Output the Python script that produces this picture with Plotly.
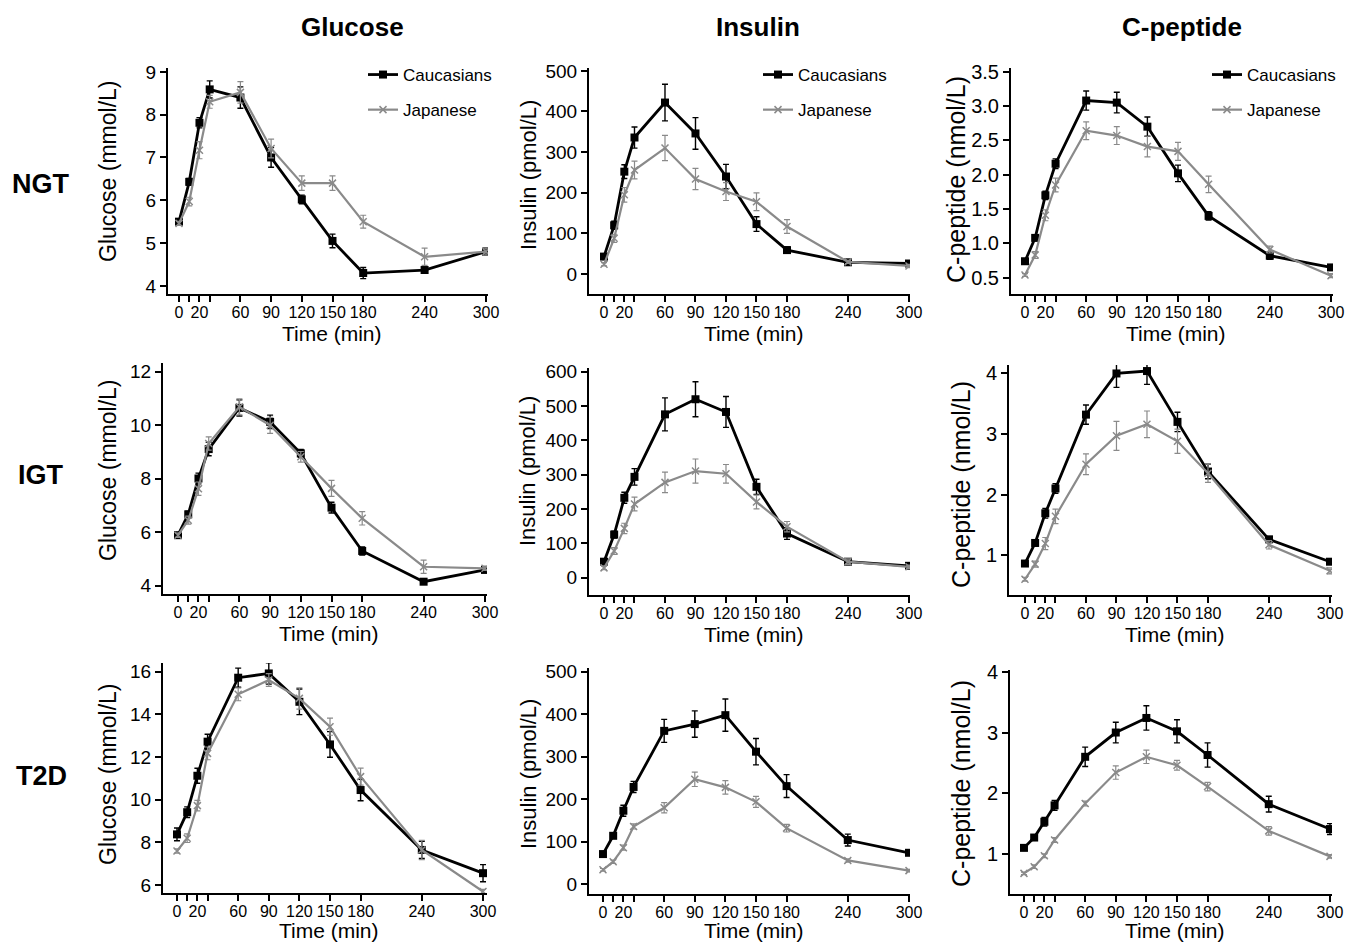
import plotly.graph_objects as go

# ---------------- data ----------------
time_min = [0, 10, 20, 30, 60, 90, 120, 150, 180, 240, 300]
tick_vals = [0, 10, 20, 30, 60, 90, 120, 150, 180, 240, 300]
tick_text = ["0", "", "20", "", "60", "90", "120", "150", "180", "240", "300"]

groups = ["NGT", "IGT", "T2D"]
measures = ["Glucose", "Insulin", "C-peptide"]
y_titles = ["Glucose (mmol/L)", "Insulin (pmol/L)", "C-peptide (nmol/L)"]
series_names = ["Caucasians", "Japanese"]

# NGT
ngt_glu_cau = [5.5, 6.43, 7.81, 8.59, 8.4, 7.0, 6.02, 5.05, 4.3, 4.37, 4.8]
ngt_glu_cau_err = [0.05, 0.08, 0.12, 0.2, 0.25, 0.23, 0.1, 0.16, 0.13, 0.05, 0.08]
ngt_glu_jap = [5.46, 5.97, 7.17, 8.3, 8.52, 7.21, 6.4, 6.4, 5.5, 4.68, 4.8]
ngt_glu_jap_err = [0.05, 0.1, 0.2, 0.15, 0.25, 0.22, 0.17, 0.17, 0.15, 0.2, 0.08]

ngt_ins_cau = [43, 120, 252, 336, 422, 346, 240, 123, 59, 29, 26]
ngt_ins_cau_err = [6, 10, 17, 26, 45, 39, 30, 18, 8, 4, 4]
ngt_ins_jap = [24, 88, 195, 256, 310, 234, 203, 178, 117, 30, 20]
ngt_ins_jap_err = [4, 10, 18, 22, 31, 26, 22, 22, 17, 4, 4]

ngt_cp_cau = [0.74, 1.08, 1.70, 2.16, 3.08, 3.05, 2.70, 2.02, 1.40, 0.82, 0.65]
ngt_cp_cau_err = [0.02, 0.04, 0.06, 0.07, 0.14, 0.15, 0.14, 0.12, 0.06, 0.05, 0.03]
ngt_cp_jap = [0.54, 0.83, 1.41, 1.85, 2.64, 2.57, 2.41, 2.34, 1.86, 0.91, 0.53]
ngt_cp_jap_err = [0.02, 0.05, 0.08, 0.1, 0.13, 0.13, 0.15, 0.13, 0.12, 0.05, 0.03]

# IGT
igt_glu_cau = [5.89, 6.67, 8.01, 9.11, 10.65, 10.13, 8.95, 6.92, 5.30, 4.15, 4.59]
igt_glu_cau_err = [0.08, 0.12, 0.2, 0.25, 0.3, 0.25, 0.15, 0.2, 0.15, 0.08, 0.08]
igt_glu_jap = [5.89, 6.45, 7.63, 9.32, 10.69, 10.0, 8.82, 7.64, 6.52, 4.71, 4.65]
igt_glu_jap_err = [0.08, 0.15, 0.25, 0.25, 0.3, 0.3, 0.2, 0.3, 0.25, 0.25, 0.08]

igt_ins_cau = [47, 126, 233, 294, 476, 520, 483, 265, 129, 47, 35]
igt_ins_cau_err = [8, 10, 16, 24, 48, 51, 45, 22, 17, 6, 5]
igt_ins_jap = [29, 78, 144, 215, 278, 311, 303, 221, 149, 47, 32]
igt_ins_jap_err = [5, 10, 15, 20, 30, 35, 27, 20, 15, 8, 5]

igt_cp_cau = [0.86, 1.20, 1.69, 2.10, 3.32, 4.0, 4.04, 3.20, 2.38, 1.26, 0.89]
igt_cp_cau_err = [0.03, 0.05, 0.08, 0.08, 0.16, 0.23, 0.22, 0.16, 0.12, 0.04, 0.04]
igt_cp_jap = [0.60, 0.85, 1.19, 1.64, 2.50, 2.97, 3.16, 2.88, 2.35, 1.17, 0.74]
igt_cp_jap_err = [0.03, 0.05, 0.1, 0.12, 0.17, 0.24, 0.22, 0.2, 0.15, 0.07, 0.05]

# T2D
t2d_glu_cau = [8.37, 9.41, 11.12, 12.72, 15.72, 15.92, 14.59, 12.59, 10.45, 7.64, 6.55]
t2d_glu_cau_err = [0.3, 0.25, 0.35, 0.35, 0.45, 0.5, 0.6, 0.6, 0.5, 0.4, 0.4]
t2d_glu_jap = [7.59, 8.19, 9.72, 12.17, 14.94, 15.61, 14.75, 13.42, 11.08, 7.64, 5.69]
t2d_glu_jap_err = [0.1, 0.2, 0.25, 0.3, 0.3, 0.3, 0.5, 0.4, 0.4, 0.45, 0.1]

t2d_ins_cau = [71, 114, 173, 229, 361, 377, 398, 312, 231, 104, 74]
t2d_ins_cau_err = [5, 6, 13, 13, 27, 31, 38, 31, 27, 14, 6]
t2d_ins_jap = [34, 53, 86, 136, 180, 247, 228, 194, 132, 56, 32]
t2d_ins_jap_err = [3, 4, 6, 6, 12, 17, 16, 13, 9, 4, 3]

t2d_cp_cau = [1.10, 1.27, 1.53, 1.80, 2.60, 3.0, 3.24, 3.02, 2.63, 1.82, 1.41]
t2d_cp_cau_err = [0.03, 0.04, 0.07, 0.08, 0.16, 0.17, 0.2, 0.19, 0.2, 0.13, 0.09]
t2d_cp_jap = [0.68, 0.79, 0.97, 1.23, 1.83, 2.34, 2.60, 2.46, 2.11, 1.38, 0.96]
t2d_cp_jap_err = [0.02, 0.03, 0.03, 0.04, 0.04, 0.11, 0.11, 0.08, 0.07, 0.07, 0.03]

panel_data = [
    [(ngt_glu_cau, ngt_glu_cau_err, ngt_glu_jap, ngt_glu_jap_err),
     (ngt_ins_cau, ngt_ins_cau_err, ngt_ins_jap, ngt_ins_jap_err),
     (ngt_cp_cau, ngt_cp_cau_err, ngt_cp_jap, ngt_cp_jap_err)],
    [(igt_glu_cau, igt_glu_cau_err, igt_glu_jap, igt_glu_jap_err),
     (igt_ins_cau, igt_ins_cau_err, igt_ins_jap, igt_ins_jap_err),
     (igt_cp_cau, igt_cp_cau_err, igt_cp_jap, igt_cp_jap_err)],
    [(t2d_glu_cau, t2d_glu_cau_err, t2d_glu_jap, t2d_glu_jap_err),
     (t2d_ins_cau, t2d_ins_cau_err, t2d_ins_jap, t2d_ins_jap_err),
     (t2d_cp_cau, t2d_cp_cau_err, t2d_cp_jap, t2d_cp_jap_err)],
]

y_ticks = [
    [[4, 5, 6, 7, 8, 9], [0, 100, 200, 300, 400, 500], [0.5, 1.0, 1.5, 2.0, 2.5, 3.0, 3.5]],
    [[4, 6, 8, 10, 12], [0, 100, 200, 300, 400, 500, 600], [1, 2, 3, 4]],
    [[6, 8, 10, 12, 14, 16], [0, 100, 200, 300, 400, 500], [1, 2, 3, 4]],
]

# ---------------- layout geometry (pixels) ----------------
W, H = 1348, 944
# (left, right, top, bottom) in px
panel_px = [
    [(168, 488, 68, 294), (589, 910, 68, 294), (1011, 1333, 68, 294)],
    [(163, 487, 363, 594), (589, 910, 368, 595), (1009, 1332, 365, 595)],
    [(163, 487, 663, 893), (589, 910, 668, 894), (1010, 1332, 670, 894)],
]
x_ranges = [
    [(-10.75, 301.95), (-14.75, 301.0), (-13.7, 301.96)],
    [(-14.66, 301.95), (-14.75, 301.0), (-15.7, 301.97)],
    [(-13.7, 303.9), (-13.7, 301.0), (-13.7, 302.0)],
]
y_ranges = [
    [(3.81, 9.09), (-49, 507), (0.263, 3.554)],
    [(3.69, 12.33), (-50, 611), (0.34, 4.14)],
    [(5.62, 16.41), (-23, 509), (0.34, 4.03)],
]
ytitle_pos = [
    [(108, 172), (528, 175), (956, 179)],
    [(108, 471), (528, 471), (961, 485)],
    [(108, 775), (528, 774), (961, 784)],
]
ytitle_size = [23, 22, 25]
ytick_size = [19, 19, 20]
FONT = "Liberation Sans, Arial, sans-serif"
CAU_COLOR = "#000000"
JAP_COLOR = "#8a8a8a"

fig = go.Figure()
annotations = []
legend_names = ["legend", "legend2", "legend3"]

for r in range(3):
    for c in range(3):
        idx = r * 3 + c + 1
        xa = "x" if idx == 1 else f"x{idx}"
        ya = "y" if idx == 1 else f"y{idx}"
        cau, cau_err, jap, jap_err = panel_data[r][c]
        show = (r == 0)
        fig.add_trace(go.Scatter(
            x=time_min, y=cau, mode="lines+markers", name=series_names[0],
            line=dict(color=CAU_COLOR, width=2.8),
            marker=dict(symbol="square", size=8, color=CAU_COLOR),
            error_y=dict(type="data", array=cau_err, color=CAU_COLOR, thickness=1.4, width=3),
            xaxis=xa, yaxis=ya, showlegend=show, legend=legend_names[c],
            legendgroup=f"cau{c}",
        ))
        fig.add_trace(go.Scatter(
            x=time_min, y=jap, mode="lines+markers", name=series_names[1],
            line=dict(color=JAP_COLOR, width=2.2),
            marker=dict(symbol="x-thin", size=7, line=dict(color=JAP_COLOR, width=1.5)),
            error_y=dict(type="data", array=jap_err, color=JAP_COLOR, thickness=1.2, width=3),
            xaxis=xa, yaxis=ya, showlegend=show, legend=legend_names[c],
            legendgroup=f"jap{c}",
        ))
        L, R, T, B = panel_px[r][c]
        axis_common = dict(showline=True, linewidth=2, linecolor="black", ticks="outside",
                           ticklen=6, tickwidth=2, tickcolor="black", showgrid=False,
                           zeroline=False, mirror=False, tickangle=0, automargin=False)
        fig.layout[f"xaxis{idx if idx > 1 else ''}"] = dict(
            domain=[L / W, R / W], anchor=ya, range=list(x_ranges[r][c]),
            tickmode="array", tickvals=tick_vals, ticktext=tick_text, ticklabelstandoff=-3,
            tickfont=dict(family=FONT, size=16, color="black"), **axis_common)
        yt = y_ticks[r][c]
        fig.layout[f"yaxis{idx if idx > 1 else ''}"] = dict(
            domain=[1 - B / H, 1 - T / H], anchor=xa, range=list(y_ranges[r][c]),
            tickmode="array", tickvals=yt,
            ticktext=[f"{v:.1f}" for v in yt] if (r == 0 and c == 2) else [str(v) for v in yt],
            tickfont=dict(family=FONT, size=ytick_size[c], color="black"), **axis_common)
        # axis titles
        tx, ty = ytitle_pos[r][c]
        annotations.append(dict(text=y_titles[c], x=tx / W, y=1 - ty / H, xref="paper", yref="paper",
                                textangle=-90, showarrow=False, xanchor="center", yanchor="middle",
                                font=dict(family=FONT, size=ytitle_size[c], color="black")))
        if r < 2:
            t_y, t_anchor = 1 - (B + 39) / H, "middle"
        else:
            t_y, t_anchor = 0.0, "bottom"
        annotations.append(dict(text="Time (min)", x=(L + R) / 2 / W + 0.003, y=t_y,
                                xref="paper", yref="paper", showarrow=False,
                                xanchor="center", yanchor=t_anchor,
                                font=dict(family=FONT, size=21, color="black")))

col_title_x = [352, 758, 1182]
for c in range(3):
    annotations.append(dict(text=f"<b>{measures[c]}</b>", x=col_title_x[c] / W, y=1 - 27 / H,
                            xref="paper", yref="paper", showarrow=False, xanchor="center",
                            yanchor="middle", font=dict(family=FONT, size=26, color="black")))
row_label_y = [184, 475, 776]
for r in range(3):
    annotations.append(dict(text=f"<b>{groups[r]}</b>", x=41 / W, y=1 - row_label_y[r] / H,
                            xref="paper", yref="paper", showarrow=False, xanchor="center",
                            yanchor="middle", font=dict(family=FONT, size=27, color="black")))

legend_x_px = [363, 758, 1207]
legend_common = dict(yanchor="top", xanchor="left", bgcolor="rgba(0,0,0,0)",
                     font=dict(family=FONT, size=17, color="black"),
                     traceorder="grouped", tracegroupgap=10, itemwidth=30)
for c in range(3):
    fig.layout[legend_names[c]] = dict(x=legend_x_px[c] / W, y=1 - 57 / H, **legend_common)

fig.update_layout(
    width=W, height=H, margin=dict(l=0, r=0, t=0, b=0, pad=0, autoexpand=False),
    paper_bgcolor="white", plot_bgcolor="white",
    annotations=annotations, showlegend=True,
    font=dict(family=FONT, color="black"),
)

fig.write_html("out.html", config={"displayModeBar": False},
               post_script="document.body.style.margin='0';document.body.style.overflow='hidden';")
